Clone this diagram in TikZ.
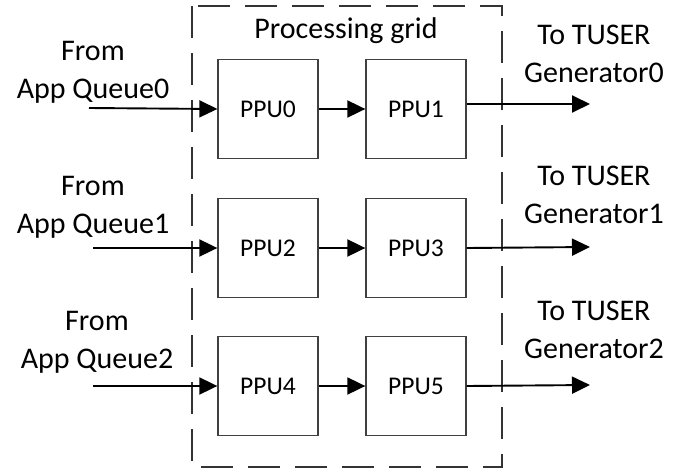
\documentclass[tikz,border=0pt]{standalone}
\usepackage{fontspec}
\setmainfont{Carlito}
\usetikzlibrary{arrows.meta}

\begin{document}
\begin{tikzpicture}[
		x=1pt,
		y=-1pt,
		line join=miter,
		>={Triangle[length=18pt,width=17pt]},
		ppu/.style={draw=black!75, line width=1.3pt, minimum width=100pt,
			minimum height=99pt, inner sep=0pt, text=black,
			font=\fontsize{25.5}{30}\selectfont},
		lbl/.style={align=center, inner sep=0pt, text=black,
			font=\fontsize{30}{38}\selectfont},
		link/.style={->, line width=1.9pt}
		]
		
		\useasboundingbox (0,0) rectangle (673,469);
		
		%------------------------------------------------------------------
		% Processing grid (dashed frame)
		%------------------------------------------------------------------
		\draw[black!80, line width=1.4pt, dash pattern=on 32pt off 15pt]
		(192,6) rectangle (502,467);
		\node[lbl, anchor=base] (grid) at (346,38) {Processing grid};
		
		%------------------------------------------------------------------
		% PPUs
		%------------------------------------------------------------------
		\node[ppu] (PPU0) at (268,109) {PPU0};
		\node[ppu] (PPU1) at (416,109) {PPU1};
		
		\node[ppu] (PPU2) at (268,248) {PPU2};
		\node[ppu] (PPU3) at (416,248) {PPU3};
		
		\node[ppu] (PPU4) at (268,386) {PPU4};
		\node[ppu] (PPU5) at (416,386) {PPU5};
		
		%------------------------------------------------------------------
		% Free ends of the input and output lines
		%------------------------------------------------------------------
		\coordinate (in0)  at ( 89,108);
		\coordinate (in1)  at ( 93,248);
		\coordinate (in2)  at ( 93,386);
		
		\coordinate (out0) at (590,104);
		\coordinate (out1) at (590,247);
		\coordinate (out2) at (590,385);
		
		%------------------------------------------------------------------
		% Arrows
		%------------------------------------------------------------------
		\draw[link] (in0) -- (PPU0.west);
		\draw[link] (in1) -- (PPU2.west);
		\draw[link] (in2) -- (PPU4.west);
		
		\draw[link] (PPU0) -- (PPU1);
		\draw[link] (PPU2) -- (PPU3);
		\draw[link] (PPU4) -- (PPU5);
		
		\draw[link] ([yshift=5pt]PPU1.east) -- (out0);
		\draw[link] (PPU3.east) -- (out1);
		\draw[link] (PPU5.east) -- (out2);
		
		%------------------------------------------------------------------
		% Labels (base = baseline of the second line)
		%------------------------------------------------------------------
		\node[lbl, anchor=base] (from0) at ( 93, 98) {From\\App Queue0};
		\node[lbl, anchor=base] (from1) at ( 93,233) {From\\App Queue1};
		\node[lbl, anchor=base] (from2) at ( 97,368) {From\\App Queue2};
		
		\node[lbl, anchor=base] (to0) at (594, 82) {To TUSER\\Generator0};
		\node[lbl, anchor=base] (to1) at (594,223) {To TUSER\\Generator1};
		\node[lbl, anchor=base] (to2) at (594,358) {To TUSER\\Generator2};
		
	\end{tikzpicture}
\end{document}
